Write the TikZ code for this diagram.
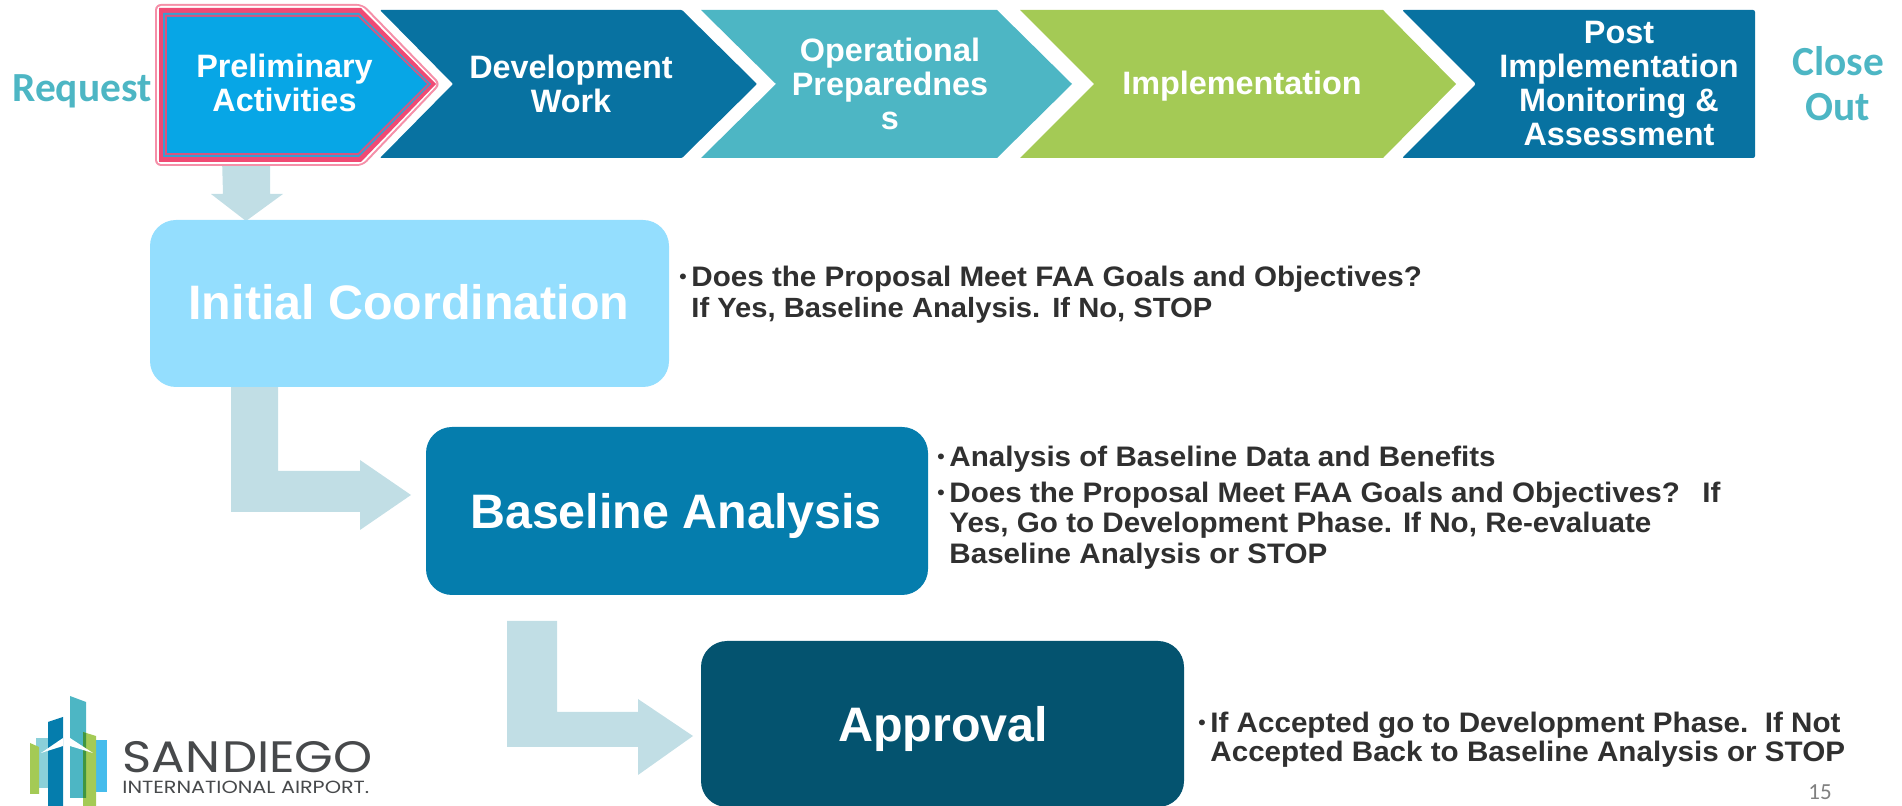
\documentclass[tikz,border=0pt]{standalone}
\usepackage{fontspec}
\setmainfont{Liberation Sans}
\newfontfamily\calib{Carlito}
\newfontfamily\bul[FakeStretch=1.05]{Liberation Sans}
\newfontfamily\pop[FakeStretch=1.13]{Poppins}
\newfontfamily\popb[FakeStretch=1.18]{Poppins}
\usetikzlibrary{calc}
\definecolor{cDark}{HTML}{0872A1}
\definecolor{cTeal}{HTML}{4DB6C4}
\definecolor{cGreen}{HTML}{A4CA55}
\definecolor{cSky}{HTML}{07A6E6}
\definecolor{cPink}{HTML}{F04A74}
\definecolor{cPinkL}{HTML}{F58FA8}
\definecolor{cBand}{HTML}{3A9FD0}
\definecolor{cBandP}{HTML}{D8557F}
\definecolor{cArrow}{HTML}{C1DEE5}
\definecolor{cLight}{HTML}{94DEFE}
\definecolor{cMid}{HTML}{057DAD}
\definecolor{cDeep}{HTML}{04536F}
\definecolor{cTxt}{HTML}{303030}
\definecolor{cLogo}{HTML}{47494B}
\newcommand{\blt}{\makebox[6pt][l]{\fontsize{10}{10}\selectfont\raisebox{1.6pt}{•}}}
\tikzset{
  chevtext/.style={text=white,font=\fontsize{16.2}{17}\selectfont\bfseries,align=center,inner sep=0pt},
  boxtext/.style={text=white,font=\fontsize{24.2}{28}\selectfont\bfseries,inner sep=0pt},
  side/.style={text=cTeal,font=\calib\fontsize{20.7}{22.4}\selectfont\bfseries,align=center,inner sep=0pt},
  bullet/.style={text=cTxt,font=\bul\fontsize{14.1}{15}\selectfont\bfseries,anchor=base west,inner sep=0pt},
  rbox/.style={rounded corners=13pt},
  logotext/.style={text=cLogo,inner sep=0pt,anchor=base west}
}
\begin{document}
\begin{tikzpicture}[x=0.5pt,y=-0.5pt]
\useasboundingbox (0,0) rectangle (1902,806);
% block arrows
\fill[cArrow] (222,158) -- (270,158) -- (270,194) -- (283,194) -- (246,221) -- (211,194) -- (223,194) -- cycle;
\fill[cArrow] (231,387) -- (278,387) -- (278,471) -- (360,471) -- (360,460) -- (411,495) -- (360,530) -- (360,512) -- (231,512) -- cycle;
\fill[cArrow] (507,621) -- (557,621) -- (557,712) -- (638,712) -- (638,699) -- (693,736) -- (638,775) -- (638,747) -- (507,747) -- cycle;
% chevrons
\fill[cDark,rounded corners=0.5pt] (380,10) -- (682,10) -- (757,84) -- (682,158) -- (380,158) -- (453,84) -- cycle;
\fill[cTeal] (701,10) -- (997,10) -- (1072,84) -- (997,158) -- (701,158) -- (776,84) -- cycle;
\fill[cGreen] (1020,10) -- (1383,10) -- (1456,84) -- (1383,158) -- (1020,158) -- (1094,84) -- cycle;
\fill[cDark,rounded corners=1pt] (1402,10) -- (1755,10) -- (1755,158) -- (1402,158) -- (1476,84) -- cycle;
% selected chevron: nested outline bands
\fill[cPinkL,rounded corners=3pt] (155,4) -- (363,4) -- (441,84) -- (363,166) -- (155,166) -- cycle;
\fill[white,rounded corners=2pt] (157,6) -- (362,6) -- (438,84) -- (362,164) -- (157,164) -- cycle;
\fill[cPink] (159,8) -- (361,8) -- (436,84) -- (361,162) -- (159,162) -- cycle;
\fill[cBand] (163,13) -- (359,13) -- (431,84) -- (359,157) -- (163,157) -- cycle;
\fill[cBandP] (165,15) -- (358.5,15) -- (429,84) -- (358.5,155) -- (165,155) -- cycle;
\fill[cSky] (167,17) -- (358,17) -- (427,84) -- (358,153) -- (167,153) -- cycle;
% chevron labels
\node[chevtext] (c1) at (284.5,83) {Preliminary\\Activities};
\node[chevtext] (c2) at (571,84) {Development\\Work};
\node[chevtext] (c3) at (890,84) {Operational\\Preparednes\\s};
\node[chevtext] (c4) at (1242,86) {Implementation};
\node[chevtext] (c5) at (1619,84) {Post\\Implementation\\Monitoring \&\\Assessment};
\node[side] (req) at (82,91) {Request};
\node[side] (close) at (1838,84) {Close\\Out};
% boxes
\fill[cLight,rbox] (150,220) rectangle (669,387);
\fill[cMid,rbox] (426,427) rectangle (928,595);
\fill[cDeep,rbox] (701,641) rectangle (1184,807);
\node[boxtext] (b1) at (409,302) {Initial Coordination};
\node[boxtext] (b2) at (676,516) {Baseline Analysis};
\node[boxtext] (b3) at (943,729) {Approval};
% bullet texts
\node[bullet] (t1) at (679,287) {\blt Does the Proposal Meet FAA Goals and Objectives?};
\node[bullet,font=\bul\fontsize{13.9}{15}\selectfont\bfseries] (t2) at (691,318) {If Yes, Baseline Analysis.\ \kern2pt If No, STOP};
\node[bullet] (t3) at (937,467) {\blt Analysis of Baseline Data and Benefits};
\node[bullet] (t4) at (937,503) {\blt Does the Proposal Meet FAA Goals and Objectives?\ \ \kern3pt If};
\node[bullet] (t5) at (949,533) {Yes, Go to Development Phase. If No, Re-evaluate};
\node[bullet] (t6) at (949,564) {Baseline Analysis or STOP};
\node[bullet] (t7) at (1198,733) {\blt If Accepted go to Development Phase.\ \ If Not};
\node[bullet] (t8) at (1210,762) {Accepted Back to Baseline Analysis or STOP};
\node[text=black!50,font=\calib\fontsize{11.5}{12}\selectfont,inner sep=0pt] (pg) at (1820,792) {15};
% logo
\fill[cTeal!65] (36,738) rectangle (48,788);
\fill[cGreen] (30,743) -- (39,747) -- (39,794) -- (30,794) -- cycle;
\fill[cTeal] (70,696) -- (86,702) -- (86,798) -- (70,798) -- cycle;
\fill[cMid] (48,722) -- (63,717) -- (63,806) -- (48,806) -- cycle;
\fill[cSky!75] (96,740) rectangle (107,792);
\fill[cGreen] (83,732) -- (96,736) -- (96,806) -- (83,806) -- cycle;
\fill[green!45!black!75] (83,732) -- (86,733) -- (86,798) -- (83,798) -- cycle;
\fill[white] (41,753) -- (63,738) -- (63,746) -- cycle;
\fill[white] (70,738) -- (93,753) -- (70,746) -- cycle;
\node[logotext,font=\pop\fontsize{22}{22}\selectfont] (l1) at (122,773) {SAN\kern1pt DIEGO};
\node[logotext,font=\popb\fontsize{8.8}{9}\selectfont] (l2) at (122,793) {INTERNATIONAL AIRPORT.};
\end{tikzpicture}
\end{document}
